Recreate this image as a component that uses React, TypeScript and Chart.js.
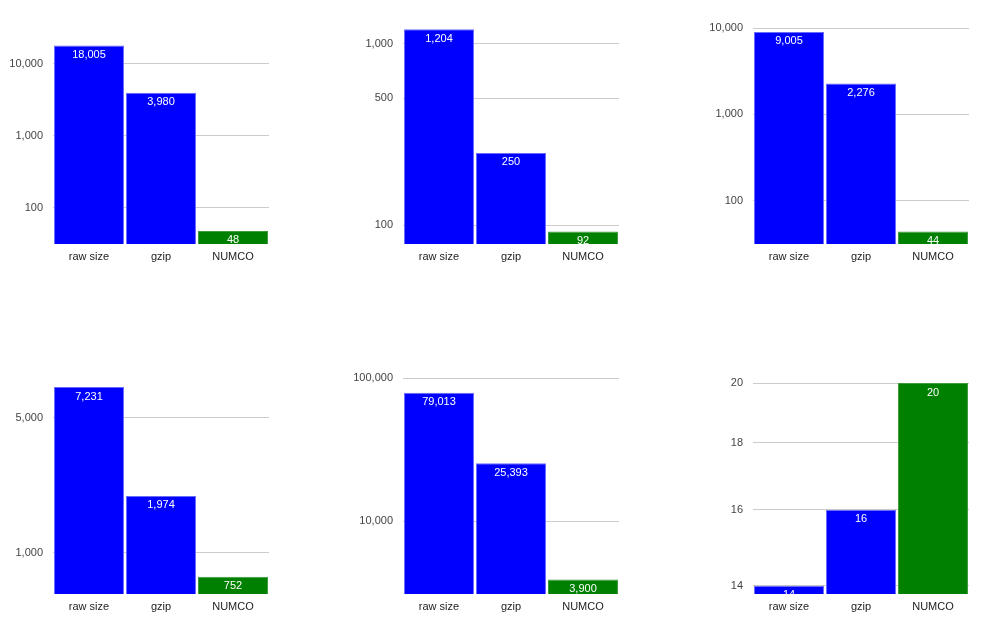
import React, { useEffect, useRef } from "react";
import { Chart, registerables } from "chart.js";

Chart.register(...registerables);

const categories = ["raw size", "gzip", "NUMCO"];
const barColors = ["#0000ff", "#0000ff", "#008000"];
const barBorders = ["#6a6aff", "#6a6aff", "#3d9a3d"];

const values1 = [18005, 3980, 48];
const values2 = [1204, 250, 92];
const values3 = [9005, 2276, 44];
const values4 = [7231, 1974, 752];
const values5 = [79013, 25393, 3900];
const values6 = [14, 16, 20];

const ticks1 = [100, 1000, 10000];
const ticks2 = [100, 500, 1000];
const ticks3 = [100, 1000, 10000];
const ticks4 = [1000, 5000];
const ticks5 = [10000, 100000];
const ticks6 = [14, 16, 18, 20];

const mins = [31.62, 78.6, 31.62, 613, 3087, 13.8];
const maxs = [31623, 1224, 10000, 8054, 100000, 20.18];

const allValues = [values1, values2, values3, values4, values5, values6];
const allTicks = [ticks1, ticks2, ticks3, ticks4, ticks5, ticks6];

const FONT = "Liberation Sans, Arial, sans-serif";
const fmt = (v: number) => Number(v).toLocaleString("en-US");

const labelPlugin = {
  id: "barLabels",
  afterDatasetsDraw(chart: any) {
    const { ctx, chartArea } = chart;
    ctx.save();
    ctx.beginPath();
    ctx.rect(chartArea.left, chartArea.top, chartArea.right - chartArea.left, chartArea.bottom - chartArea.top);
    ctx.clip();
    ctx.fillStyle = "#ffffff";
    ctx.font = `11px ${FONT}`;
    ctx.textAlign = "center";
    ctx.textBaseline = "middle";
    const meta = chart.getDatasetMeta(0);
    const data = chart.data.datasets[0].data;
    meta.data.forEach((bar: any, i: number) => {
      ctx.fillText(fmt(data[i]), bar.x, bar.y + 9.5);
    });
    ctx.restore();
  },
};

function SmallChart({ idx }: { idx: number }) {
  const ref = useRef<HTMLCanvasElement>(null);
  useEffect(() => {
    if (!ref.current) return;
    const tickVals = allTicks[idx];
    const chart = new Chart(ref.current, {
      type: "bar",
      data: {
        labels: categories,
        datasets: [
          {
            data: allValues[idx],
            backgroundColor: barColors,
            borderColor: barBorders,
            borderWidth: 1,
            barPercentage: 0.972,
            categoryPercentage: 1,
          },
        ],
      },
      options: {
        animation: false,
        responsive: false,
        devicePixelRatio: 1,
        layout: { padding: { left: 0, right: 81, top: 28, bottom: 6 } },
        plugins: { legend: { display: false }, tooltip: { enabled: false } },
        scales: {
          x: {
            grid: { display: false },
            border: { display: false },
            ticks: { color: "#222222", font: { family: FONT, size: 11 }, padding: -2, maxRotation: 0 },
            afterFit: (s: any) => {
              s.height = 30;
            },
          },
          y: {
            type: "logarithmic",
            min: mins[idx],
            max: maxs[idx],
            grid: { color: "#cccccc", drawTicks: false, lineWidth: 1 },
            border: { display: false },
            ticks: {
              color: "#444444",
              font: { family: FONT, size: 11 },
              padding: 10,
              autoSkip: false,
              callback: (v: any) => fmt(Number(v)),
            },
            afterBuildTicks: (s: any) => {
              s.ticks = tickVals.map((v) => ({ value: v }));
            },
            afterFit: (s: any) => {
              s.width = 53;
            },
          },
        },
      },
      plugins: [labelPlugin],
    });
    return () => chart.destroy();
  }, [idx]);
  const col = idx % 3;
  const row = Math.floor(idx / 3);
  return (
    <div style={{ position: "absolute", left: col * 350 - 8, top: row * 350 - 8, width: 350, height: 280 }}>
      <canvas ref={ref} width={350} height={280} style={{ display: "block" }} />
    </div>
  );
}

export default function App() {
  return (
    <div style={{ position: "relative", width: 983, height: 627 }}>
      {[0, 1, 2, 3, 4, 5].map((i) => (
        <SmallChart key={i} idx={i} />
      ))}
    </div>
  );
}
